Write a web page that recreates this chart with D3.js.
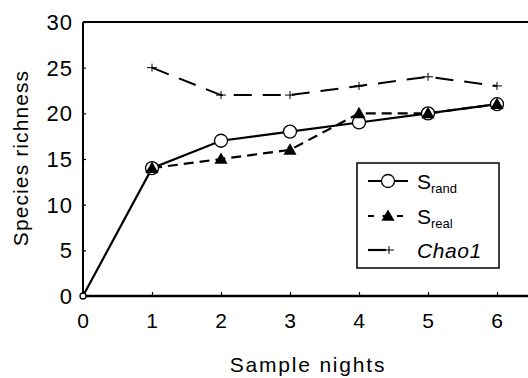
<!DOCTYPE html>
<html><head><meta charset="utf-8">
<script src="https://cdn.jsdelivr.net/npm/d3@7"></script>
<style>
body{margin:0;background:#fff;}
svg{display:block;font-family:"Liberation Sans",Arial,sans-serif;}
</style></head>
<body><div id="chart"></div>
<script>
const nights = [0,1,2,3,4,5,6];
const sRand = [0,14,17,18,19,20,21];
const sRealNights = [1,2,3,4,5,6];
const sReal = [14,15,16,20,20,21];
const chaoNights = [1,2,3,4,5,6];
const chao1 = [25,22,22,23,24,23];
const yTicks = [0,5,10,15,20,25,30];
const xTicks = [0,1,2,3,4,5,6];

const W=528,H=378;
const svg=d3.select("#chart").append("svg").attr("width",W).attr("height",H);
const x=d3.scaleLinear().domain([0,6.5]).range([83,531.5]);
const y=d3.scaleLinear().domain([0,30]).range([296,22]);

// frame top
svg.append("line").attr("x1",x(0)).attr("x2",W).attr("y1",y(30)).attr("y2",y(30))
  .attr("stroke","#000").attr("stroke-width",2);

const yAxis=svg.append("g").attr("transform",`translate(${x(0)},0)`)
  .call(d3.axisRight(y).tickValues(yTicks).tickSize(3).tickFormat(""));
yAxis.select(".domain").attr("stroke-width",2).attr("d",`M0,${y(0)}V${y(30)}`);
yAxis.selectAll("line").attr("stroke-width",1.2);
svg.append("g").selectAll("text").data(yTicks).join("text")
  .attr("x",73).attr("y",d=>y(d)).attr("dy","0.36em").attr("text-anchor","end")
  .attr("font-size",22).attr("letter-spacing",1).text(d=>d);

const xAxis=svg.append("g").attr("transform",`translate(0,${y(0)})`)
  .call(d3.axisTop(x).tickValues(xTicks).tickSize(4).tickFormat(""));
xAxis.select(".domain").attr("stroke-width",2.5).attr("d",`M${x(0)},0H${W}`);
xAxis.selectAll("line").attr("stroke-width",1.2);
svg.append("g").selectAll("text").data(xTicks).join("text")
  .attr("x",d=>x(d)).attr("y",328).attr("text-anchor","middle")
  .attr("font-size",21).text(d=>d);

svg.append("text").attr("x",308).attr("y",372).attr("text-anchor","middle")
  .attr("font-size",21).attr("letter-spacing",1.8).text("Sample nights");
svg.append("text").attr("transform","translate(28,158) rotate(-90)").attr("text-anchor","middle")
  .attr("font-size",21).attr("letter-spacing",1.1).text("Species richness");

const line=d3.line().x(d=>x(d[0])).y(d=>y(d[1]));
const chaoData=chaoNights.map((n,i)=>[n,chao1[i]]);
const realData=sRealNights.map((n,i)=>[n,sReal[i]]);
const randData=nights.map((n,i)=>[n,sRand[i]]);

svg.append("path").datum(chaoData).attr("d",line).attr("fill","none").attr("stroke","#000")
  .attr("stroke-width",2).attr("stroke-dasharray","18,11");
svg.append("g").selectAll("path").data(chaoData).join("path")
  .attr("d",d=>`M${x(d[0])-5},${y(d[1])}h10M${x(d[0])},${y(d[1])-4}v8`)
  .attr("stroke","#000").attr("stroke-width",1);

svg.append("path").datum(realData).attr("d",line).attr("fill","none").attr("stroke","#000")
  .attr("stroke-width",2.2).attr("stroke-dasharray","10,6");
svg.append("path").datum(randData).attr("d",line).attr("fill","none").attr("stroke","#000")
  .attr("stroke-width",2.2);

const tri=d3.symbol().type(d3.symbolTriangle).size(75);
svg.append("g").selectAll("circle").data(randData).join("circle")
  .attr("cx",d=>x(d[0])).attr("cy",d=>y(d[1])).attr("r",(d,i)=>i===0?3:6.5)
  .attr("fill","#fff").attr("stroke","#000").attr("stroke-width",1.3);
svg.append("g").selectAll("path").data(realData).join("path")
  .attr("transform",d=>`translate(${x(d[0])},${y(d[1])+1})`).attr("d",tri).attr("fill","#000");

// legend
const lg=svg.append("g");
lg.append("rect").attr("x",357).attr("y",163).attr("width",142).attr("height",105)
  .attr("fill","#fff").attr("stroke","#000").attr("stroke-width",1.5);
lg.append("line").attr("x1",368).attr("x2",408).attr("y1",181).attr("y2",181).attr("stroke","#000").attr("stroke-width",2.2);
lg.append("circle").attr("cx",388).attr("cy",181).attr("r",6.5).attr("fill","#fff").attr("stroke","#000").attr("stroke-width",1.3);
lg.append("line").attr("x1",368).attr("x2",408).attr("y1",216).attr("y2",216).attr("stroke","#000").attr("stroke-width",2.2).attr("stroke-dasharray","6,8.5");
lg.append("path").attr("transform","translate(388,217)").attr("d",tri).attr("fill","#000");
lg.append("line").attr("x1",368).attr("x2",386).attr("y1",250).attr("y2",250).attr("stroke","#000").attr("stroke-width",2.2);
lg.append("path").attr("d","M384,250h10M389,246v8").attr("stroke","#000").attr("stroke-width",1);

const t1=lg.append("text").attr("x",417).attr("y",189).attr("font-size",21);
t1.append("tspan").text("S");
t1.append("tspan").attr("font-size",13).attr("dy",4).text("rand");
const t2=lg.append("text").attr("x",417).attr("y",224).attr("font-size",21);
t2.append("tspan").text("S");
t2.append("tspan").attr("font-size",13).attr("dy",4).text("real");
lg.append("text").attr("x",417).attr("y",258).attr("font-size",21).attr("font-style","italic")
  .attr("letter-spacing",0.6).text("Chao1");
</script></body></html>
